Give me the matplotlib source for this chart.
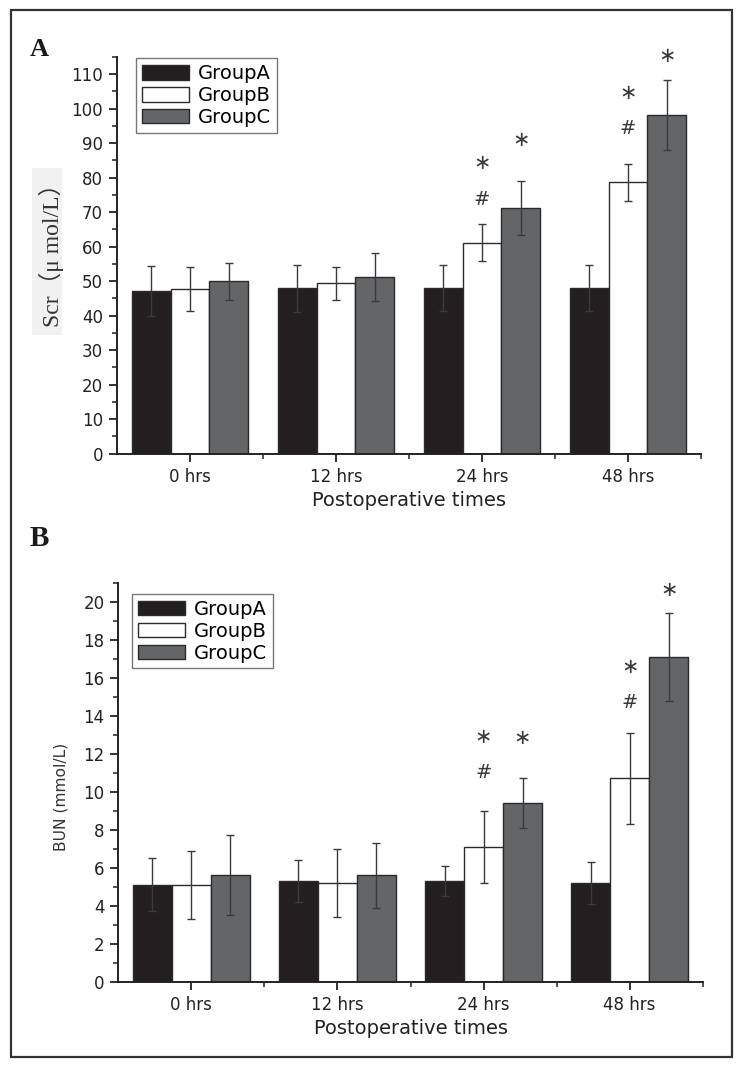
import numpy as np
import matplotlib.pyplot as plt
from matplotlib.patches import Rectangle
from matplotlib.ticker import MultipleLocator, FixedLocator

# data
times = ['0 hrs', '12 hrs', '24 hrs', '48 hrs']
groups = ['GroupA', 'GroupB', 'GroupC']

scr_mean = [[47.2, 48.0, 48.0, 48.0],
            [47.8, 49.4, 61.2, 78.7],
            [50.0, 51.3, 71.2, 98.2]]
scr_err = [[7.3, 6.8, 6.6, 6.6],
           [6.3, 4.8, 5.4, 5.3],
           [5.3, 7.0, 7.8, 10.2]]

bun_mean = [[5.1, 5.3, 5.3, 5.2],
            [5.1, 5.2, 7.1, 10.7],
            [5.6, 5.6, 9.4, 17.1]]
bun_err = [[1.4, 1.1, 0.8, 1.1],
           [1.8, 1.8, 1.9, 2.4],
           [2.1, 1.7, 1.3, 2.3]]

# significance marks: (time index, group index, symbol, offset above error bar in px)
scr_marks = [(2, 1, '#', 24), (2, 1, '*', 61), (2, 2, '*', 41),
             (3, 1, '#', 35), (3, 1, '*', 71), (3, 2, '*', 24)]
bun_marks = [(2, 1, '#', 38), (2, 1, '*', 74), (2, 2, '*', 40),
             (3, 1, '#', 30), (3, 1, '*', 66), (3, 2, '*', 23)]

colors = ['#231f20', '#ffffff', '#646567']
edge = '#2a2a2a'
width = 0.267

plt.rcParams['font.family'] = ['DejaVu Sans']

fig = plt.figure(figsize=(7.44, 10.69), dpi=100)

# outer frame
fig.patches.append(Rectangle((11 / 744, 1 - 1057 / 1069), 721 / 744, 1047 / 1069,
                             transform=fig.transFigure, fill=False,
                             edgecolor='#333333', linewidth=1.6))
# light box behind the Scr label
fig.patches.append(Rectangle((32 / 744, 1 - 335 / 1069), 30 / 744, 167 / 1069,
                             transform=fig.transFigure, facecolor='#f1f1f1',
                             edgecolor='none'))


def panel(ax, means, errs, marks, ymax, major, minor, leg_anchor):
    x = np.arange(len(times))
    for i, g in enumerate(groups):
        ax.bar(x + (i - 1) * width, means[i], width, color=colors[i],
               edgecolor=edge, linewidth=1.0, label=g, zorder=2)
        ax.errorbar(x + (i - 1) * width, means[i], yerr=errs[i], fmt='none',
                    ecolor='#3a3a3a', elinewidth=1.0, capsize=3, capthick=1.0, zorder=3)
    for t, g, s, off in marks:
        top = means[g][t] + errs[g][t]
        if s == '*':
            ax.annotate('∗', xy=(t + (g - 1) * width, top), xytext=(0, off),
                        textcoords='offset pixels', ha='center', va='center',
                        fontsize=15, color='#3a3a3a', annotation_clip=False)
        else:
            ax.annotate(s, xy=(t + (g - 1) * width, top), xytext=(0, off),
                        textcoords='offset pixels', ha='center', va='center',
                        fontsize=14, color='#3a3a3a', annotation_clip=False)
    ax.set_xlim(-0.5, 3.5)
    ax.set_ylim(0, ymax)
    ax.set_xticks(x)
    ax.set_xticklabels(times)
    ax.xaxis.set_minor_locator(FixedLocator([0.5, 1.5, 2.5, 3.5]))
    ax.yaxis.set_major_locator(MultipleLocator(major))
    ax.yaxis.set_minor_locator(MultipleLocator(minor))
    for s in ['top', 'right']:
        ax.spines[s].set_visible(False)
    for s in ['left', 'bottom']:
        ax.spines[s].set_linewidth(1.4)
        ax.spines[s].set_color('#222222')
    ax.tick_params(axis='both', which='major', length=6, width=1.3,
                   labelsize=12, colors='#222222', pad=4)
    ax.tick_params(axis='both', which='minor', length=3.5, width=1.1, colors='#222222')
    ax.set_xlabel('Postoperative times', fontsize=14, labelpad=4, color='#222222')
    leg = ax.legend(loc='upper left', bbox_to_anchor=leg_anchor, fontsize=14,
                    frameon=True, fancybox=False, handlelength=2.45, handleheight=0.77,
                    handletextpad=0.45, labelspacing=0.15, borderpad=0.3,
                    borderaxespad=0)
    leg.get_frame().set_edgecolor('#555555')
    leg.get_frame().set_linewidth(1.0)


axA = fig.add_axes([117 / 744, 1 - 453.7 / 1069, 584 / 744, 396.7 / 1069])
panel(axA, scr_mean, scr_err, scr_marks, 115, 10, 5, (0.0325, 0.9967))

axB = fig.add_axes([118.3 / 744, 1 - 981.7 / 1069, 584.4 / 744, 399 / 1069])
panel(axB, bun_mean, bun_err, bun_marks, 21, 2, 1, (0.023, 0.9717))

# y labels
fig.text(51 / 744, 1 - 249 / 1069, 'Scr（μ mol/L）', rotation=90, ha='center', va='center',
         fontsize=17, family=['Liberation Serif', 'Noto Sans CJK SC'], color='#333333')
fig.text(61 / 744, 1 - 797 / 1069, 'BUN (mmol/L)', rotation=90, ha='center', va='center',
         fontsize=11.2, color='#333333')

# panel letters
fig.text(39 / 744, 1 - 50 / 1069, 'A', ha='center', va='center', fontsize=19,
         fontweight='bold', family='Liberation Serif', color='#1a1a1a')
fig.text(39 / 744, 1 - 539 / 1069, 'B', ha='center', va='center', fontsize=21,
         fontweight='bold', family='Liberation Serif', color='#1a1a1a')

fig.savefig('out.png', dpi=100)
